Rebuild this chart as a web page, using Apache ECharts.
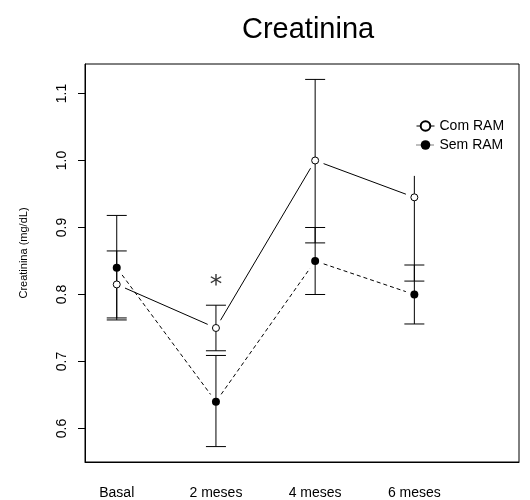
<!DOCTYPE html>
<html>
<head>
<meta charset="utf-8">
<script src="https://cdn.jsdelivr.net/npm/echarts@6/dist/echarts.min.js"></script>
<style>
  html, body { margin: 0; padding: 0; background: #fff; }
  #chart { width: 530px; height: 500px; }
</style>
</head>
<body>
<div id="chart"></div>
<script>
// data
const categories = ['Basal', '2 meses', '4 meses', '6 meses'];
const xPos = [1, 2, 3, 4];
const yTicks = [0.6, 0.7, 0.8, 0.9, 1.0, 1.1];

const comMean = [0.815, 0.75, 1.0, 0.945];
const comLow = [0.765, 0.716, 0.877, 0.82];
const comHigh = [0.865, 0.784, 1.121, 0.977];
const comHighCap = [1, 1, 1, 0]; // upper whisker at 6 meses has no cap

const semMean = [0.84, 0.64, 0.85, 0.8];
const semLow = [0.762, 0.573, 0.8, 0.756];
const semHigh = [0.918, 0.709, 0.9, 0.844];
const semHighCap = [1, 1, 1, 1];

const star = [2, 0.813]; // "*" above 2 meses

const FONT = 'Liberation Sans, Arial, sans-serif';

var chart = echarts.init(document.getElementById('chart'));

function errBars(low, high, cap) {
  return xPos.map((x, i) => [x, low[i], high[i], cap[i]]);
}
function segments(mean) {
  var out = [];
  for (var i = 0; i < xPos.length - 1; i++) {
    out.push([xPos[i], mean[i], xPos[i + 1], mean[i + 1]]);
  }
  return out;
}

function renderErr(params, api) {
  var x = api.value(0);
  var lo = api.coord([x, api.value(1)]);
  var hi = api.coord([x, api.value(2)]);
  var w = 10;
  var st = { stroke: '#000', lineWidth: 1 };
  var kids = [
    { type: 'line', shape: { x1: lo[0], y1: lo[1], x2: hi[0], y2: hi[1] }, style: st },
    { type: 'line', shape: { x1: lo[0] - w, y1: lo[1], x2: lo[0] + w, y2: lo[1] }, style: st }
  ];
  if (api.value(3)) {
    kids.push({ type: 'line', shape: { x1: hi[0] - w, y1: hi[1], x2: hi[0] + w, y2: hi[1] }, style: st });
  }
  return { type: 'group', children: kids };
}

// segment between points, with a gap around each marker (like R type="b")
function segRenderer(dash) {
  return function (params, api) {
    var p1 = api.coord([api.value(0), api.value(1)]);
    var p2 = api.coord([api.value(2), api.value(3)]);
    var dx = p2[0] - p1[0], dy = p2[1] - p1[1];
    var len = Math.sqrt(dx * dx + dy * dy);
    var g = 9;
    var ux = dx / len, uy = dy / len;
    return {
      type: 'line',
      shape: { x1: p1[0] + ux * g, y1: p1[1] + uy * g, x2: p2[0] - ux * g, y2: p2[1] - uy * g },
      style: { stroke: '#000', lineWidth: 1, lineDash: dash }
    };
  };
}

option = {
  backgroundColor: '#fff',
  animation: false,
  title: {
    text: 'Creatinina',
    left: 237,
    top: 10,
    textStyle: { fontFamily: FONT, fontSize: 29, fontWeight: 'normal', color: '#000' }
  },
  legend: {
    orient: 'vertical',
    left: 411,
    top: 114,
    itemWidth: 18,
    itemHeight: 12,
    itemGap: 5,
    textStyle: { fontFamily: FONT, fontSize: 14, color: '#000' },
    data: [
      { name: 'Com RAM', lineStyle: { color: '#000', width: 1, type: 'solid', opacity: 1 } },
      { name: 'Sem RAM', lineStyle: { color: '#000', width: 1, type: 'dotted', opacity: 1 } }
    ]
  },
  grid: {
    left: 85,
    top: 64,
    right: 11,
    bottom: 38,
    show: true,
    borderColor: '#000',
    borderWidth: 1
  },
  xAxis: {
    type: 'value',
    min: 0.68,
    max: 5.055,
    splitLine: { show: false },
    axisLine: { show: true, lineStyle: { color: '#000' } },
    axisTick: { show: false },
    axisLabel: {
      customValues: xPos,
      formatter: v => categories[Math.round(v) - 1],
      fontFamily: FONT,
      fontSize: 14,
      color: '#000',
      margin: 24
    }
  },
  yAxis: {
    type: 'value',
    min: 0.55,
    max: 1.144,
    name: 'Creatinina (mg/dL)',
    nameLocation: 'middle',
    nameGap: 56,
    nameTextStyle: { fontFamily: FONT, fontSize: 11, color: '#000', padding: [0, 0, 0, 20] },
    splitLine: { show: false },
    axisLine: { show: true, lineStyle: { color: '#000' } },
    axisTick: { show: true, customValues: yTicks, length: 7, lineStyle: { color: '#000' } },
    axisLabel: {
      customValues: yTicks,
      formatter: v => v.toFixed(1),
      rotate: 90,
      fontFamily: FONT,
      fontSize: 14,
      color: '#000',
      margin: 16
    }
  },
  series: [
    {
      type: 'custom',
      name: 'errCom',
      renderItem: renderErr,
      data: errBars(comLow, comHigh, comHighCap),
      z: 2
    },
    {
      type: 'custom',
      name: 'errSem',
      renderItem: renderErr,
      data: errBars(semLow, semHigh, semHighCap),
      z: 2
    },
    {
      type: 'custom',
      name: 'segCom',
      renderItem: segRenderer(null),
      data: segments(comMean),
      z: 2
    },
    {
      type: 'custom',
      name: 'segSem',
      renderItem: segRenderer([4, 3]),
      data: segments(semMean),
      z: 2
    },
    {
      type: 'line',
      name: 'Sem RAM',
      data: xPos.map((x, i) => [x, semMean[i]]),
      symbol: 'circle',
      symbolSize: 8,
      itemStyle: { color: '#000', borderColor: '#000', borderWidth: 0 },
      lineStyle: { color: '#000', opacity: 0 },
      z: 4
    },
    {
      type: 'line',
      name: 'Com RAM',
      data: xPos.map((x, i) => [x, comMean[i]]),
      symbol: 'circle',
      symbolSize: 7,
      itemStyle: { color: '#fff', borderColor: '#000', borderWidth: 1 },
      lineStyle: { color: '#000', opacity: 0 },
      z: 5
    },
    {
      type: 'scatter',
      name: 'star',
      data: [star],
      symbolSize: 0,
      silent: true,
      label: {
        show: true,
        position: 'inside',
        formatter: '*',
        fontFamily: 'DejaVu Sans',
        fontSize: 25,
        color: '#000'
      }
    }
  ]
};

chart.setOption(option);
</script>
</body>
</html>
